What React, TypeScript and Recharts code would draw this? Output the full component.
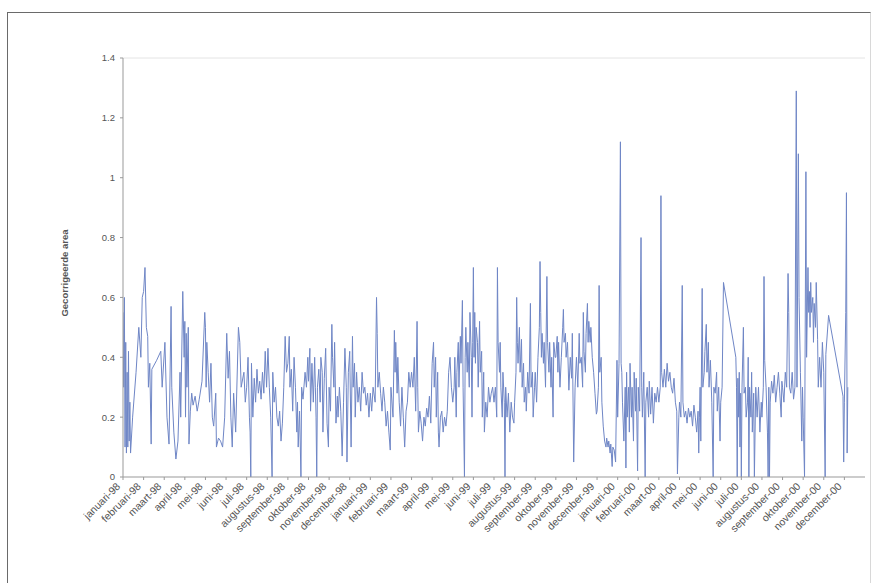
import React from 'react';
import { LineChart, Line, XAxis, YAxis, ReferenceLine } from 'recharts';

const tickLabels = [
  'januari-98','februari-98','maart-98','april-98','mei-98','juni-98','juli-98','augustus-98','september-98','oktober-98','november-98','december-98',
  'januari-99','februari-99','maart-99','april-99','mei-99','juni-99','juli-99','augustus-99','september-99','oktober-99','november-99','december-99',
  'januari-00','februari-00','maart-00','april-00','mei-00','juni-00','juli-00','augustus-00','september-00','oktober-00','november-00','december-00',
];

const yTicks = [0, 0.2, 0.4, 0.6, 0.8, 1, 1.2, 1.4];

// [day of month, corrected area]
const year98: number[][][] = [
  [[1,0.55],[2,0.3],[3,0.6],[4,0.1],[5,0.45],[6,0.08],[7,0.35],[8,0.1],[9,0.42],[10,0.12],[11,0.25],[12,0.08],[15,0.2],[20,0.35],[24,0.5],[27,0.4],[29,0.6]],
  [[1,0.62],[3,0.7],[5,0.5],[7,0.47],[8,0.3],[10,0.38],[12,0.11],[13,0.36],[20,0.39],[26,0.42],[28,0.3]],
  [[2,0.45],[5,0.2],[8,0.11],[11,0.57],[12,0.3],[15,0.15],[18,0.06],[21,0.12],[24,0.35],[25,0.2],[28,0.62],[30,0.4]],
  [[1,0.52],[2,0.2],[3,0.48],[4,0.3],[6,0.5],[7,0.11],[9,0.22],[11,0.28],[13,0.24],[16,0.27],[19,0.22],[22,0.26],[26,0.32],[30,0.55]],
  [[1,0.5],[2,0.3],[3,0.45],[5,0.35],[7,0.25],[9,0.38],[11,0.2],[13,0.17],[16,0.28],[17,0.1],[20,0.13],[23,0.12],[26,0.1],[29,0.2]],
  [[2,0.48],[4,0.33],[6,0.42],[8,0.2],[10,0.1],[12,0.28],[15,0.15],[19,0.5],[21,0.45],[23,0.3],[27,0.35],[29,0.25]],
  [[1,0.3],[3,0.4],[5,0.2],[6,0.15],[7,0],[8,0.38],[10,0.2],[12,0.33],[14,0.25],[16,0.36],[18,0.28],[20,0.32],[22,0.26],[24,0.35],[26,0.28],[28,0.42],[30,0.3]],
  [[2,0.43],[4,0.3],[6,0.2],[8,0],[9,0.35],[11,0.25],[13,0.3],[15,0.2],[17,0.17],[19,0.22],[21,0.12],[23,0.18],[25,0.3],[27,0.47],[29,0.35]],
  [[1,0.38],[3,0.47],[4,0.3],[6,0.36],[8,0.22],[10,0.4],[12,0.3],[14,0.15],[15,0.25],[16,0.1],[18,0.22],[20,0],[21,0.3],[23,0.26],[26,0.35],[28,0.3],[30,0.4]],
  [[1,0.32],[3,0.43],[4,0.22],[6,0.38],[8,0.25],[10,0.4],[11,0.3],[12,0.2],[13,0],[14,0.3],[16,0.36],[18,0.25],[19,0.4],[21,0.35],[22,0.15],[24,0.33],[26,0.43],[28,0.18],[30,0.1]],
  [[1,0.3],[3,0.22],[5,0.51],[6,0.4],[8,0.3],[9,0.45],[11,0.18],[13,0.27],[14,0.2],[16,0.3],[18,0.22],[20,0.07],[22,0.25],[24,0.43],[26,0.3],[27,0.05],[29,0.35]],
  [[1,0.42],[3,0.1],[5,0.47],[6,0.3],[8,0.38],[9,0.2],[11,0.35],[13,0.25],[15,0.3],[17,0.22],[19,0.35],[21,0.28],[23,0.3],[25,0.24],[27,0.28],[29,0.2]],
];

const year99: number[][][] = [
  [[1,0.28],[3,0.22],[5,0.3],[8,0.25],[10,0.6],[11,0.48],[12,0.3],[14,0.35],[16,0.28],[18,0.22],[20,0.3],[22,0.25],[24,0.17],[26,0.22],[28,0.15],[30,0.09]],
  [[1,0.3],[4,0.2],[6,0.49],[7,0.35],[8,0.45],[10,0.28],[11,0.4],[13,0.25],[15,0.17],[17,0.3],[19,0.2],[21,0.1],[23,0.22],[25,0.25],[27,0.35],[29,0.3]],
  [[1,0.35],[3,0.3],[5,0.4],[7,0.22],[9,0.52],[10,0.3],[11,0.15],[13,0.22],[15,0.18],[17,0.12],[19,0.2],[21,0.17],[23,0.23],[25,0.2],[27,0.27],[29,0.18]],
  [[1,0.38],[3,0.45],[4,0.3],[6,0.4],[7,0.2],[9,0.35],[10,0.15],[11,0.1],[13,0.2],[15,0.22],[17,0.15],[19,0.2],[21,0.17],[23,0.22],[25,0.35],[27,0.4],[29,0.3]],
  [[1,0.25],[3,0.3],[4,0.4],[6,0.2],[7,0.35],[9,0.45],[10,0.3],[12,0.47],[13,0.38],[15,0.59],[16,0.3],[18,0],[19,0.4],[20,0.5],[22,0.35],[23,0.45],[25,0.3],[26,0.55],[28,0.4],[29,0.2],[30,0.45]],
  [[1,0.7],[2,0.4],[3,0.55],[4,0.38],[5,0.5],[7,0.45],[8,0.3],[10,0.52],[11,0.35],[13,0.42],[14,0.2],[16,0.35],[17,0.15],[19,0.25],[21,0.2],[23,0.3],[25,0.25],[27,0.28],[29,0.3]],
  [[1,0.25],[3,0.3],[5,0.2],[6,0.7],[7,0.45],[9,0.35],[10,0.45],[11,0.3],[13,0.2],[14,0.35],[16,0.25],[17,0],[18,0.3],[20,0.2],[22,0.28],[24,0.15],[26,0.25],[28,0.2],[30,0.18]],
  [[1,0.25],[3,0.35],[4,0.6],[5,0.45],[6,0.38],[8,0.5],[9,0.35],[11,0.46],[12,0.3],[14,0.38],[15,0.25],[17,0.3],[18,0.22],[20,0.35],[22,0.28],[24,0.58],[25,0.3],[27,0.35],[28,0.2],[30,0.3]],
  [[1,0.35],[3,0.25],[5,0.4],[7,0.5],[8,0.72],[9,0.55],[10,0.4],[11,0.48],[13,0.38],[14,0.45],[16,0.3],[18,0.67],[19,0.45],[21,0.35],[22,0.45],[24,0.3],[25,0.4],[27,0.2],[28,0.45],[30,0.4]],
  [[1,0.4],[3,0.47],[4,0.35],[5,0.45],[7,0.3],[9,0.4],[11,0.5],[12,0.56],[13,0.45],[15,0.48],[16,0.4],[18,0.45],[20,0.29],[22,0.4],[24,0.33],[25,0.48],[27,0.05],[29,0.3]],
  [[1,0.4],[3,0.3],[5,0.48],[6,0.38],[8,0.4],[10,0.3],[11,0.55],[12,0.42],[14,0.35],[15,0.48],[17,0.58],[18,0.45],[19,0.52],[21,0.45],[22,0.5],[24,0.4],[26,0.35],[28,0.28],[30,0.21]],
  [[1,0.22],[3,0.3],[4,0.64],[5,0.35],[7,0.4],[8,0.25],[10,0.17],[12,0.12],[14,0.1],[15,0.13],[17,0.1],[18,0.12],[20,0.08],[21,0.11],[23,0.035],[24,0.1],[26,0.09],[28,0.05],[30,0.39]],
];

const year00: number[][][] = [
  [[1,0.2],[3,0.38],[5,1.12],[6,0.38],[7,0.35],[8,0.25],[10,0.12],[12,0.3],[13,0.03],[14,0.35],[15,0.2],[17,0.3],[18,0.15],[19,0.38],[21,0.2],[22,0.3],[24,0.12],[25,0.35],[27,0.22],[28,0.33],[30,0.02]],
  [[1,0.3],[3,0.22],[5,0.8],[6,0.3],[7,0.2],[9,0.35],[11,0],[12,0.25],[14,0.3],[16,0.2],[17,0.32],[19,0.21],[21,0.3],[23,0.18],[25,0.28],[27,0.25],[29,0.3]],
  [[1,0.25],[3,0.3],[4,0.94],[5,0.35],[7,0.3],[9,0.36],[11,0.3],[13,0.38],[15,0.32],[17,0.35],[19,0.3],[21,0.28],[23,0.33],[25,0.25],[27,0.22],[28,0.01],[30,0.2]],
  [[1,0.25],[3,0.2],[5,0.64],[6,0.25],[8,0.2],[10,0.22],[12,0.18],[14,0.23],[16,0.2],[18,0.22],[20,0.17],[22,0.24],[24,0.2],[26,0.15],[28,0.22],[29,0.08],[30,0.2]],
  [[1,0.3],[2,0.12],[4,0.63],[5,0.3],[7,0.35],[8,0.42],[10,0.51],[11,0.35],[13,0.45],[14,0.3],[16,0.39],[18,0.25],[20,0],[21,0.3],[23,0.28],[25,0.35],[26,0.22],[28,0.3],[30,0.12]],
  [[1,0.25],[3,0.3],[5,0.65],[23,0.4],[24,0.3],[25,0],[26,0.33],[27,0.2],[28,0.35],[29,0.1],[30,0.28]],
  [[1,0],[2,0.3],[4,0.5],[5,0.28],[7,0.3],[8,0.2],[10,0.25],[11,0.4],[12,0],[13,0.3],[15,0.2],[16,0.35],[17,0.15],[19,0.28],[20,0],[22,0.3],[24,0.2],[26,0.3],[28,0.15],[30,0.25]],
  [[1,0.2],[3,0.3],[4,0.67],[5,0.39],[7,0.3],[9,0.15],[10,0],[11,0.3],[12,0],[13,0.25],[15,0.32],[17,0.28],[19,0.34],[21,0.25],[23,0.3],[25,0.35],[27,0.28],[29,0.2],[30,0.32]],
  [[1,0.3],[3,0.25],[5,0.35],[7,0.3],[9,0.68],[10,0.55],[11,0.3],[13,0.28],[15,0.35],[17,0.26],[19,0.3],[21,1.29],[22,0.3],[24,1.08],[25,0.6],[27,0.35],[29,0.12],[30,0.3]],
  [[1,0.2],[3,0],[5,1.02],[6,0.4],[8,0.7],[9,0.55],[10,0.62],[11,0.5],[12,0.65],[13,0.55],[15,0.6],[16,0.45],[17,0.58],[19,0.5],[20,0.65],[22,0.46],[23,0.3],[25,0.4],[27,0.3],[29,0.45]],
  [[1,0.35],[3,0],[4,0.41],[8,0.54],[29,0.27],[30,0.05]],
  [[1,0.25],[3,0.55],[4,0.95],[5,0.08],[6,0.3]],
];

const years = [year98, year99, year00];
const data: { t: number; v: number }[] = [];
years.forEach((yr, yi) => {
  yr.forEach((month, mi) => {
    month.forEach(([d, v]) => {
      data.push({ t: yi * 12 + mi + (d - 1) / 30, v });
    });
  });
});

const monthTicks = tickLabels.map((_, i) => i);

const XTick = (props: any) => {
  const { x, y, payload } = props;
  const ax = x - 2;
  const ay = y + 5;
  return (
    <text
      x={ax}
      y={ay}
      transform={`rotate(-45 ${ax} ${ay})`}
      textAnchor="end"
      fontSize={10.5}
      fill="#555"
      fontFamily="Liberation Sans, Arial, sans-serif"
    >
      {tickLabels[payload.value]}
    </text>
  );
};

const YLabel = () => (
  <text
    x={68}
    y={273}
    transform="rotate(-90 68 273)"
    textAnchor="middle"
    fontSize={9.5}
    fontWeight="bold"
    fill="#555"
    fontFamily="Liberation Sans, Arial, sans-serif"
  >
    Gecorrigeerde area
  </text>
);

export default function App() {
  return (
    <div style={{ position: 'absolute', left: 0, top: 0, width: 873, height: 583, background: '#fff', overflow: 'hidden' }}>
      <div
        style={{
          position: 'absolute',
          left: 7,
          top: 12,
          width: 862,
          height: 600,
          borderTop: '1.5px solid #6a6a6a',
          borderLeft: '1.5px solid #6a6a6a',
          borderRight: '1px solid #d8d8d8',
        }}
      />
      <div style={{ position: 'absolute', left: 0, top: 0 }}>
        <LineChart
          width={873}
          height={583}
          data={data}
          margin={{ top: 58, right: 8, left: 63, bottom: 6 }}
        >
          <ReferenceLine y={1.4} stroke="#e4e4e4" strokeWidth={1} />
          <XAxis
            dataKey="t"
            type="number"
            domain={[0, 36]}
            ticks={monthTicks}
            interval={0}
            height={100}
            tick={<XTick />}
            tickSize={3}
            tickMargin={2}
            stroke="#999"
            allowDataOverflow
          />
          <YAxis
            type="number"
            domain={[0, 1.4]}
            ticks={yTicks}
            width={60}
            tickSize={3}
            tickMargin={5}
            stroke="#999"
            tick={{ fontSize: 9.5, fill: '#555', fontFamily: 'Liberation Sans, Arial, sans-serif' }}
            tickFormatter={(v: number) => String(Math.round(v * 10) / 10)}
            label={<YLabel />}
          />
          <Line
            type="linear"
            dataKey="v"
            stroke="#6f86c6"
            strokeWidth={1}
            dot={false}
            isAnimationActive={false}
          />
        </LineChart>
      </div>
    </div>
  );
}
